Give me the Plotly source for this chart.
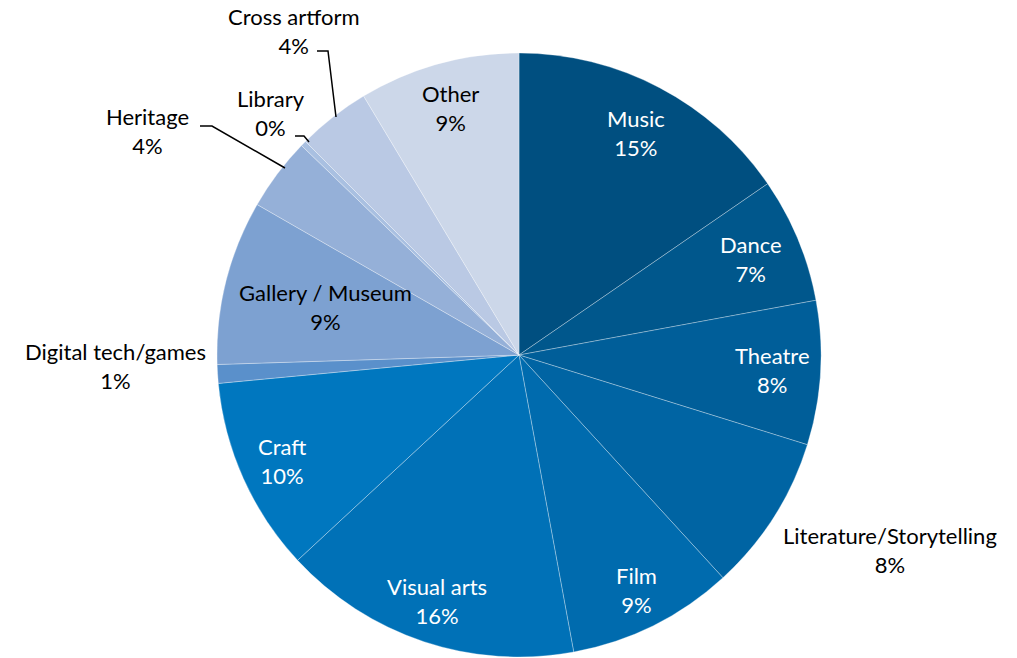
import math
import plotly.graph_objects as go

# Share of activity by artform (percent)
categories = [
    "Music", "Dance", "Theatre", "Literature/Storytelling", "Film",
    "Visual arts", "Craft", "Digital tech/games", "Gallery / Museum",
    "Heritage", "Library", "Cross artform", "Other",
]
values = [15.4, 6.7, 7.7, 8.4, 8.9, 16.0, 10.4, 1.0, 8.8, 3.9, 0.3, 3.9, 8.6]
colors = [
    "#004F80", "#00578C", "#005E99", "#0064A3", "#006BAE", "#0071B7",
    "#0077BF", "#5A90CB", "#7DA1D1", "#95B0D8", "#A9C0E1", "#BAC9E4", "#CCD7E9",
]

W, H = 1017, 658
CX, CY, R = 519, 355, 302  # pie centre and radius in pixels

# label placement: radial factor for labels inside slices, pixel spot for outside ones
inside_radius = {
    "Music": 0.83, "Dance": 0.83, "Theatre": 0.84, "Film": 0.87,
    "Visual arts": 0.86, "Craft": 0.86, "Gallery / Museum": 0.66, "Other": 0.85,
}
outside_spot = {
    "Literature/Storytelling": (890, 550),
    "Digital tech/games": (115, 366),
    "Heritage": (147, 131),
    "Library": (271, 113),
    "Cross artform": (294, 31),
}
leaders = [
    [(200, 126), (212, 126), (285, 168)],
    [(295, 136), (304, 136), (309, 142)],
    [(317, 51), (328, 51), (336, 117)],
]

total = sum(values)
dark = {"Music", "Dance", "Theatre", "Film", "Visual arts", "Craft"}


def px(x):
    return x / W


def py(y):
    return 1 - y / H


fig = go.Figure(go.Pie(
    labels=categories,
    values=values,
    sort=False,
    direction="clockwise",
    rotation=0,
    marker=dict(colors=colors, line=dict(color="rgba(255,255,255,0.3)", width=1)),
    textinfo="none",
    hoverinfo="label+percent",
    showlegend=False,
    domain=dict(x=[px(CX - R), px(CX + R)], y=[py(CY + R), py(CY - R)]),
))

annotations = []
cum = 0.0
for name, v in zip(categories, values):
    mid = (cum + v / 2) / total * 2 * math.pi
    cum += v
    pct = round(v / total * 100)
    text = f"{name}<br>{pct}%"
    if name in inside_radius:
        k = inside_radius[name] * R
        x, y = CX + k * math.sin(mid), CY - k * math.cos(mid)
    else:
        x, y = outside_spot[name]
    annotations.append(dict(
        x=px(x), y=py(y), xref="paper", yref="paper",
        text=text, showarrow=False, align="center",
        xanchor="center", yanchor="middle",
        font=dict(family="Lato", size=22, color="white" if name in dark else "black"),
    ))

shapes = []
for pts in leaders:
    path = "M " + " L ".join(f"{px(a)},{py(b)}" for a, b in pts)
    shapes.append(dict(type="path", path=path, xref="paper", yref="paper",
                       line=dict(color="black", width=1.5)))

fig.update_layout(
    width=W, height=H,
    margin=dict(l=0, r=0, t=0, b=0),
    paper_bgcolor="white",
    plot_bgcolor="white",
    annotations=annotations,
    shapes=shapes,
)

fig.write_html("out.html")
